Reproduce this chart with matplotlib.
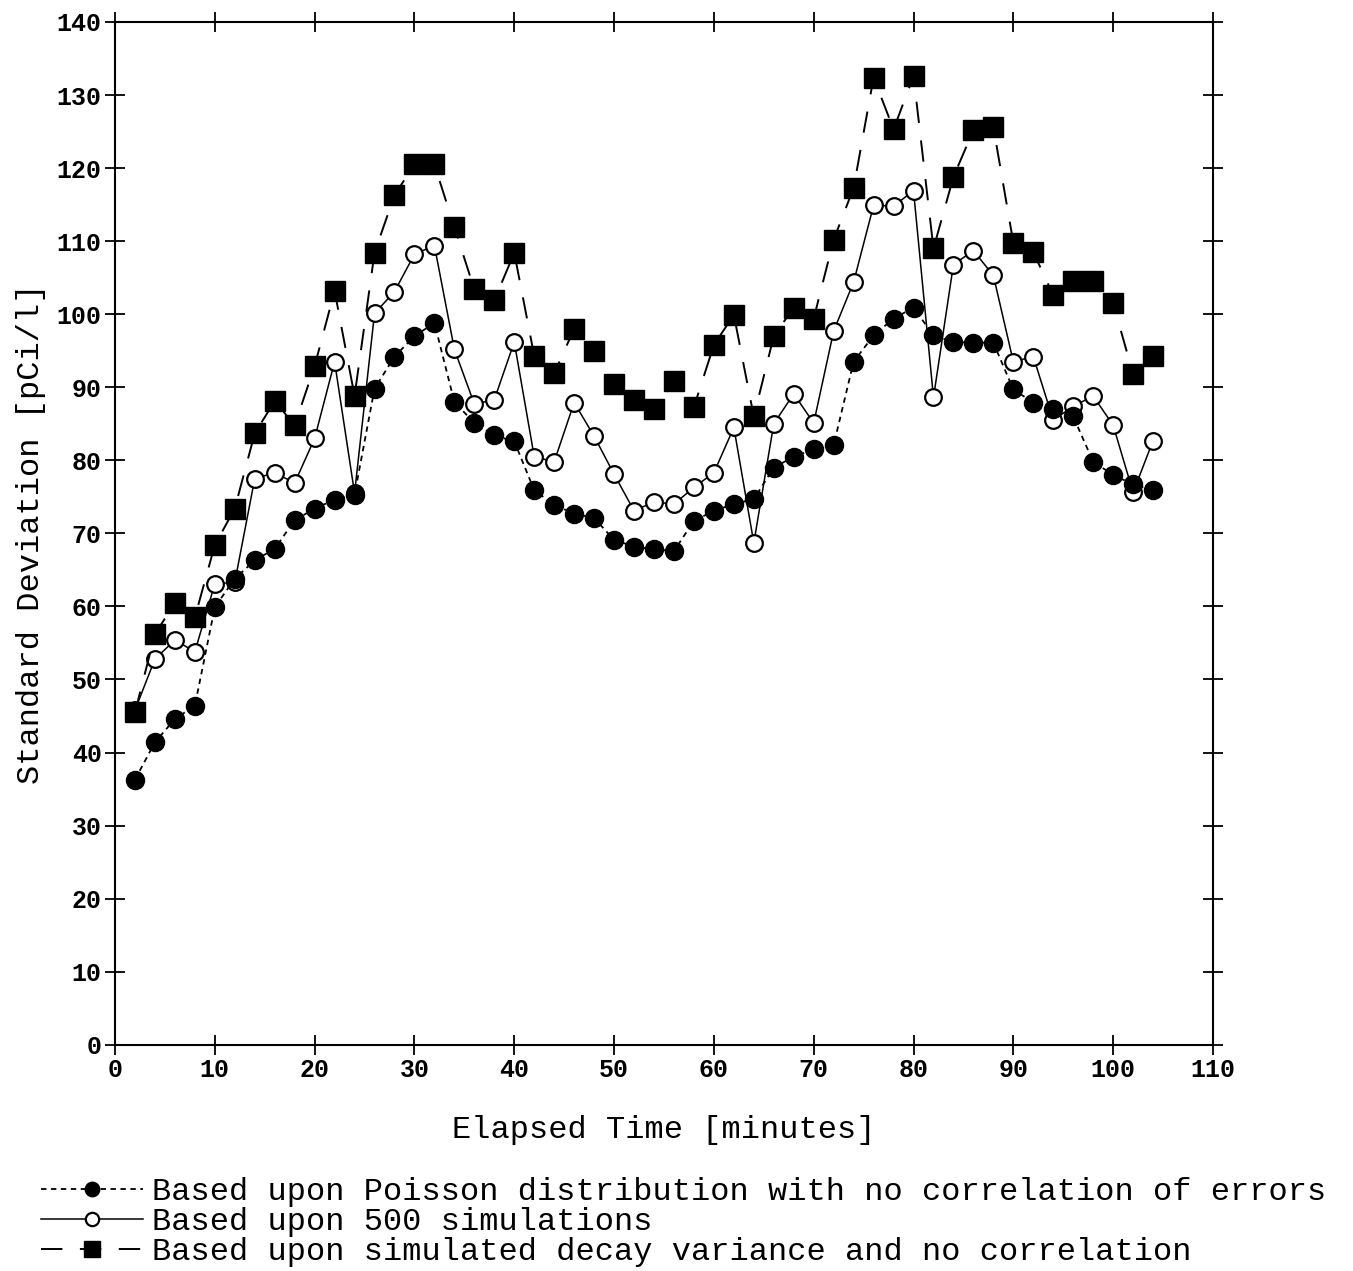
import matplotlib
matplotlib.use('Agg')
import matplotlib.pyplot as plt

# elapsed time (minutes) and standard deviation (pCi/l) for the three estimates
elapsed = [2, 4, 6, 8, 10, 12, 14, 16, 18, 20, 22, 24, 26, 28, 30, 32, 34, 36,
           38, 40, 42, 44, 46, 48, 50, 52, 54, 56, 58, 60, 62, 64, 66, 68, 70,
           72, 74, 76, 78, 80, 82, 84, 86, 88, 90, 92, 94, 96, 98, 100, 102, 104]

poisson = [36.3, 41.4, 44.6, 46.4, 59.9, 63.8, 66.3, 67.9, 71.8, 73.4, 74.6, 75.3,
           89.8, 94.2, 97.0, 98.8, 88.0, 85.1, 83.4, 82.6, 75.9, 73.9, 72.7, 72.1,
           69.1, 68.2, 67.8, 67.6, 71.7, 73.1, 74.0, 74.7, 79.0, 80.5, 81.5, 82.1,
           93.5, 97.1, 99.4, 100.9, 97.1, 96.2, 96.1, 96.1, 89.7, 87.9, 87.0, 86.0,
           79.8, 78.0, 76.7, 75.9]

sims = [45.8, 52.8, 55.4, 53.8, 63.1, 63.3, 77.5, 78.3, 76.9, 83.0, 93.5, 75.5,
        100.1, 103.1, 108.2, 109.4, 95.2, 87.7, 88.3, 96.2, 80.5, 79.8, 87.9, 83.3,
        78.1, 73.1, 74.3, 74.0, 76.3, 78.3, 84.5, 68.7, 85.0, 89.1, 85.1, 97.7,
        104.4, 114.9, 114.8, 116.9, 88.6, 106.8, 108.7, 105.3, 93.5, 94.2, 85.5, 87.4,
        88.8, 84.8, 75.6, 82.7]

decay = [45.5, 56.2, 60.5, 58.5, 68.4, 73.4, 83.7, 88.1, 84.8, 92.9, 103.2, 88.8,
         108.4, 116.3, 120.5, 120.5, 111.9, 103.4, 101.9, 108.4, 94.3, 91.9, 98.0, 95.0,
         90.5, 88.3, 87.0, 90.8, 87.3, 95.8, 99.9, 86.0, 97.0, 100.9, 99.4, 110.2,
         117.3, 132.4, 125.3, 132.6, 109.0, 118.8, 125.2, 125.6, 109.8, 108.5, 102.6, 104.6,
         104.6, 101.5, 91.8, 94.3]

labels = ['Based upon Poisson distribution with no correlation of errors',
          'Based upon 500 simulations',
          'Based upon simulated decay variance and no correlation']

plt.rcParams['font.family'] = ['Liberation Mono', 'DejaVu Sans Mono']

fig = plt.figure(figsize=(13.53, 12.71), dpi=100)
ax = fig.add_axes([0.085, 0.178, 0.8115, 0.8047])

l_sim, = ax.plot(elapsed, sims, color='black', lw=1.1, marker='o', ms=12,
                 mfc='white', mec='black', mew=1.6, zorder=2)
l_dec, = ax.plot(elapsed, decay, color='black', lw=1.4, ls=(0, (11, 9)),
                 marker='s', ms=14, mfc='black', mec='black', zorder=3)
l_poi, = ax.plot(elapsed, poisson, color='black', lw=1.3, ls=(0, (3, 2.5)),
                 marker='o', ms=13, mfc='black', mec='black', zorder=4)

ax.set_xlim(0, 110)
ax.set_ylim(0, 140)
ax.set_xticks(range(0, 111, 10))
ax.set_yticks(range(0, 141, 10))
ax.tick_params(direction='inout', length=15, width=1.3, top=True, right=True,
               labelsize=18, pad=2)
for lab in ax.get_xticklabels() + ax.get_yticklabels():
    lab.set_fontweight('bold')
for sp in ax.spines.values():
    sp.set_linewidth(1.5)

ax.set_xlabel('Elapsed Time [minutes]', fontsize=23, labelpad=24)
ax.set_ylabel('Standard Deviation [pCi/l]', fontsize=23, labelpad=8)

fig.legend([l_poi, l_sim, l_dec], labels, loc='upper left',
           bbox_to_anchor=(0.03, 0.074), frameon=False, fontsize=23,
           handlelength=3.2, handletextpad=0.3, labelspacing=0.0,
           borderpad=0, borderaxespad=0, numpoints=1, markerscale=0.8)

fig.savefig('out.png', dpi=100)
